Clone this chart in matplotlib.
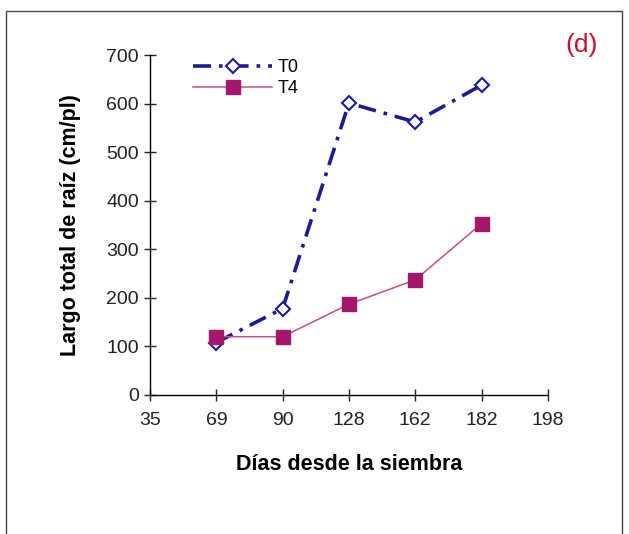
import numpy as np
import matplotlib.pyplot as plt
from matplotlib.patches import Rectangle

plt.rcParams['font.family'] = ['Liberation Sans', 'DejaVu Sans']

# Data
dias = ['35', '69', '90', '128', '162', '182', '198']
dias_datos = ['69', '90', '128', '162', '182']
t0 = [108, 178, 601, 562, 638]
t4 = [120, 120, 187, 237, 353]

pos = {d: i for i, d in enumerate(dias)}
x = [pos[d] for d in dias_datos]

fig = plt.figure(figsize=(6.29, 5.34), dpi=100)
ax = fig.add_axes([0.2385, 0.2603, 0.6325, 0.6367])

ax.plot(x, t0, linestyle=(0, (5, 2.2, 1, 2.2)), color='#1c1c92', lw=2.6,
        marker='D', markersize=7, markerfacecolor='white',
        markeredgecolor='#1c1c92', markeredgewidth=1.5, label='T0', zorder=3)
ax.plot(x, t4, linestyle='-', color='#c0508c', lw=1.1,
        marker='s', markersize=10.5, markerfacecolor='#a3166c',
        markeredgecolor='#a3166c', label='T4', zorder=4)

ax.set_xlim(0, 6)
ax.set_ylim(0, 700)
ax.set_xticks(range(len(dias)))
ax.set_xticklabels(dias)
ax.set_yticks(np.arange(0, 701, 100))

ax.spines['top'].set_visible(False)
ax.spines['right'].set_visible(False)
ax.spines['left'].set_linewidth(1.0)
ax.spines['bottom'].set_linewidth(1.0)
ax.tick_params(axis='both', direction='inout', length=9, width=1,
               labelsize=14, colors='#222222')
ax.tick_params(axis='x', pad=8)

ax.set_xlabel('Días desde la siembra', fontsize=15.5, fontweight='bold', labelpad=18)
ax.set_ylabel('Largo total de raíz (cm/pl)', fontsize=15.5, fontweight='bold', labelpad=18)

leg = ax.legend(loc='upper left', bbox_to_anchor=(0.09, 1.01), frameon=False,
                fontsize=13, handlelength=4.4, handletextpad=0.3,
                labelspacing=0.25, borderaxespad=0)

fig.text(0.925, 0.915, '(d)', color='#c8102e', fontsize=19, ha='center', va='center')

fig.patches.append(Rectangle((0.009, -0.05), 0.98, 1.03, transform=fig.transFigure,
                             fill=False, edgecolor='#444444', lw=1.0))

fig.savefig('out.png', dpi=100)
